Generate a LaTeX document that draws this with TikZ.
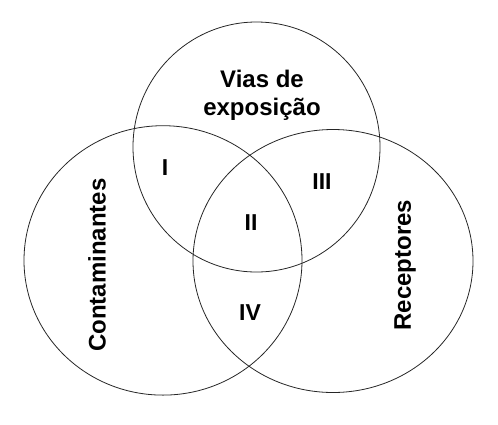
\documentclass[tikz,border=0pt]{standalone}
\usepackage{fontspec}
\setmainfont{Liberation Sans}
\usepackage{tikz}
\usepackage{xcolor}

\begin{document}
\begin{tikzpicture}[x=1pt,y=-1pt]
\tikzset{conj/.style={draw=black!85, line width=0.8pt},
  rotulo/.style={font=\bfseries\fontsize{24}{28}\selectfont, align=center, inner sep=0pt},
  regiao/.style={font=\bfseries\fontsize{23}{24}\selectfont, inner sep=0pt}}
\useasboundingbox (0,0) rectangle (498,424);
\draw[conj] (256.5,147) ellipse [x radius=123.5, y radius=125];
\draw[conj] (163,260.4) ellipse [x radius=139, y radius=134.7];
\draw[conj] (333,261) ellipse [x radius=140, y radius=131.5];
\node[rotulo] (vias) at (262,95) {Vias de\\exposição};
\node[rotulo, rotate=90] (cont) at (97,265) {Contaminantes};
\node[rotulo, rotate=90] (rec) at (405,265) {Receptores};
\node[regiao] (r1) at (165,168) {I};
\node[regiao] (r2) at (251,223) {II};
\node[regiao] (r3) at (322,182) {III};
\node[regiao] (r4) at (250,313) {IV};
\end{tikzpicture}
\end{document}
